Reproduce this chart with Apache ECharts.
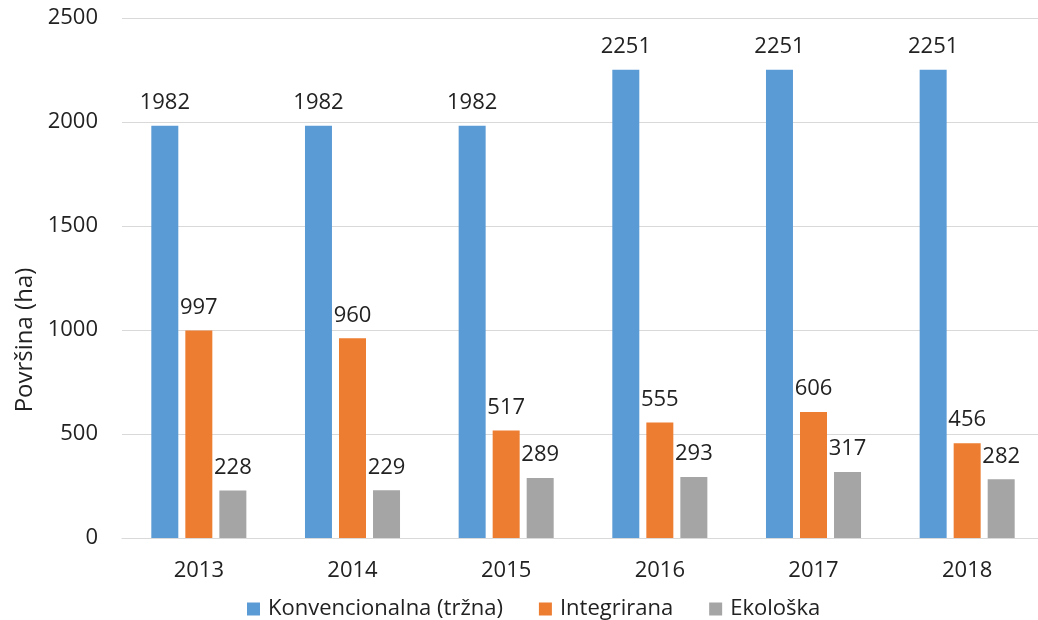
<!DOCTYPE html>
<html>
<head>
<meta charset="utf-8">
<script src="https://cdn.jsdelivr.net/npm/echarts@6/dist/echarts.min.js"></script>
<style>html,body{margin:0;padding:0;background:#fff;overflow:hidden}#c{width:1050px;height:620px}</style>
</head>
<body>
<div id="c"></div>
<script>
var categories = ['2013','2014','2015','2016','2017','2018'];
var seriesNames = ['Konvencionalna (tržna)','Integrirana','Ekološka'];
var konvencionalna = [1982,1982,1982,2251,2251,2251];
var integrirana = [997,960,517,555,606,456];
var ekoloska = [228,229,289,293,317,282];
var yTicks = [0,500,1000,1500,2000,2500];
var yAxisTitle = 'Površina (ha)';

var FONT = '"Open Sans", sans-serif';
var TXT = '#222';
var colors = ['#5B9BD5','#ED7D31','#A5A5A5'];
var chart = echarts.init(document.getElementById('c'), null, {renderer:'canvas'});

function mk(name, data, color){
  return {
    name: name, type: 'bar', data: data, barWidth: 27, barGap: '26%',
    itemStyle: {color: color},
    label: {show: true, position: 'top', distance: 12, fontFamily: FONT, fontSize: 22, color: TXT},
    emphasis: {disabled: true}
  };
}

chart.setOption({
  animation: false,
  color: colors,
  grid: {left: 122, top: 18, width: 922, height: 520, containLabel: false},
  xAxis: {
    type: 'category', data: categories,
    axisLine: {lineStyle: {color: '#D9D9D9', width: 1}},
    axisTick: {show: false},
    axisLabel: {fontFamily: FONT, fontSize: 22, color: TXT, margin: 22}
  },
  yAxis: {
    type: 'value', min: yTicks[0], max: yTicks[yTicks.length-1], interval: 500,
    axisLine: {show: false}, axisTick: {show: false},
    splitLine: {lineStyle: {color: '#D9D9D9', width: 1}},
    axisLabel: {fontFamily: FONT, fontSize: 22, color: TXT, margin: 24, formatter: function(v){ return String(v); }}
  },
  legend: {
    left: 242, top: 593, icon: 'rect', itemWidth: 13, itemHeight: 13, itemGap: 36,
    data: seriesNames,
    textStyle: {fontFamily: FONT, fontSize: 22, color: TXT, padding: [0,0,0,3]}
  },
  graphic: [{
    type: 'text', x: 25, y: 340, rotation: Math.PI/2,
    style: {text: yAxisTitle, fontFamily: FONT, fontSize: 24, fill: TXT, align: 'center', verticalAlign: 'middle'}
  }],
  series: [
    mk(seriesNames[0], konvencionalna, colors[0]),
    mk(seriesNames[1], integrirana, colors[1]),
    mk(seriesNames[2], ekoloska, colors[2])
  ]
});
</script>
</body>
</html>
